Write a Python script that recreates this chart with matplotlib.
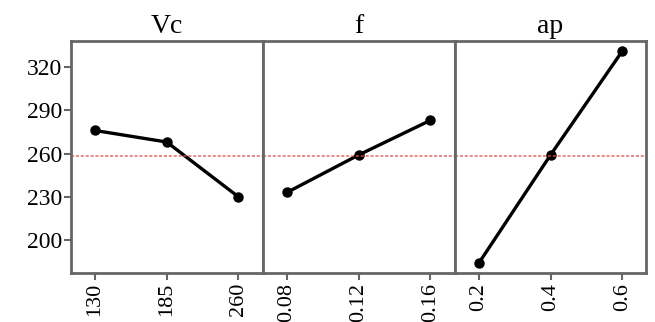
import matplotlib.pyplot as plt
plt.rcdefaults()
import numpy as np

plt.rcParams['font.family'] = ['Liberation Serif', 'DejaVu Serif']

# factor names and their levels
factors = ['Vc', 'f', 'ap']
vc_levels = ['130', '185', '260']
f_levels = ['0.08', '0.12', '0.16']
ap_levels = ['0.2', '0.4', '0.6']

# mean response at each level
vc_means = [276, 268, 230]
f_means = [233, 259, 283]
ap_means = [184, 259, 331]

grand_mean = 258.5

levels = [vc_levels, f_levels, ap_levels]
means = [vc_means, f_means, ap_means]

fig, axes = plt.subplots(1, 3, figsize=(6.55, 3.22), dpi=100, sharey=True)
fig.subplots_adjust(left=0.108, right=0.987, top=0.872, bottom=0.152, wspace=0)

spine_col = '#666666'
for ax, name, lv, mv in zip(axes, factors, levels, means):
    x = np.arange(len(lv))
    ax.plot(x, mv, color='black', lw=2.4, marker='o', ms=6.5)
    ax.axhline(grand_mean, color='#e05050', lw=1.1, ls=(0, (2, 1.2)), alpha=0.85)
    ax.set_xlim(-0.34, 2.34)
    ax.set_xticks(x)
    ax.set_xticklabels(lv, rotation=90, fontsize=16)
    ax.set_title(name, fontsize=20, pad=6)
    for s in ax.spines.values():
        s.set_color(spine_col)
        s.set_linewidth(2)
    ax.tick_params(axis='x', direction='out', length=5, width=1.5, color=spine_col, pad=2)
    ax.tick_params(axis='y', direction='out', length=5, width=1.5, color=spine_col, labelsize=17, pad=1)

axes[0].set_ylim(177, 338)
axes[0].set_yticks([200, 230, 260, 290, 320])
for ax in axes[1:]:
    ax.tick_params(axis='y', left=False)

plt.savefig('out.png', dpi=100)
plt.close()
